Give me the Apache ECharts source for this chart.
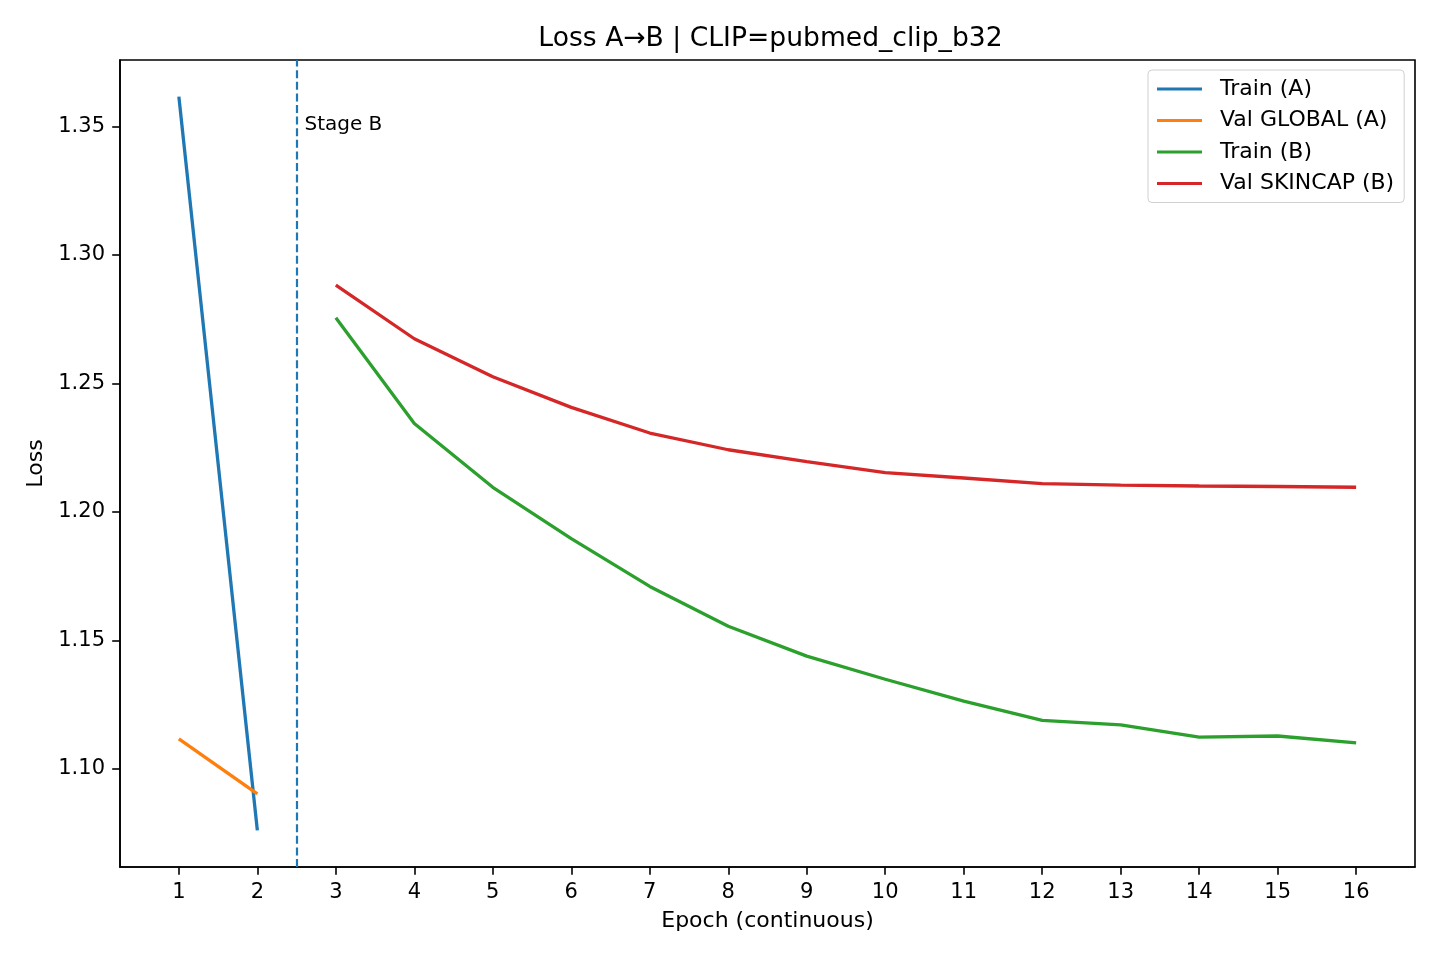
<!DOCTYPE html>
<html>
<head>
<meta charset="utf-8">
<script src="https://cdn.jsdelivr.net/npm/echarts@6/dist/echarts.min.js"></script>
<style>
html,body{margin:0;padding:0;background:#fff;}
#chart{width:1440px;height:960px;}
</style>
</head>
<body>
<div id="chart"></div>
<script>
// ---- data ----
const epochsA = [1, 2];
const trainA = [1.3616, 1.0761];
const valGlobalA = [1.1117, 1.0903];
const epochsB = [3, 4, 5, 6, 7, 8, 9, 10, 11, 12, 13, 14, 15, 16];
const trainB = [1.2756, 1.2344, 1.2096, 1.1896, 1.1710, 1.1555, 1.1439, 1.1349, 1.1264, 1.1189, 1.1171, 1.1124, 1.1128, 1.1101];
const valSkincapB = [1.2883, 1.2674, 1.2526, 1.2407, 1.2307, 1.2242, 1.2196, 1.2153, 1.2132, 1.2110, 1.2104, 1.2101, 1.2099, 1.2096];
const xTicks = [1, 2, 3, 4, 5, 6, 7, 8, 9, 10, 11, 12, 13, 14, 15, 16];
const yTicks = [1.10, 1.15, 1.20, 1.25, 1.30, 1.35];
const seriesNames = ['Train (A)', 'Val GLOBAL (A)', 'Train (B)', 'Val SKINCAP (B)'];
const stageBoundary = 2.5;
const stageLabel = 'Stage B';
const stageLabelPos = [2.6, 1.3478];

// ---- build ----
const C = ['#1f77b4', '#ff7f0e', '#2ca02c', '#d62728'];
const pairs = (xs, ys) => xs.map((x, i) => [x, ys[i]]);
const allY = trainA.concat(valGlobalA, trainB, valSkincapB);
const yLo = Math.min(...allY), yHi = Math.max(...allY);
const yPad = (yHi - yLo) * 0.05;
const xAll = epochsA.concat(epochsB);
const xLo = Math.min(...xAll), xHi = Math.max(...xAll);
const xPad = (xHi - xLo) * 0.05;

const FONT = 'DejaVu Sans';
const lineW = 3.3;

function lineSeries(name, xs, ys, color, extra) {
  return Object.assign({
    name: name,
    type: 'line',
    data: pairs(xs, ys),
    symbol: 'none',
    showSymbol: false,
    lineStyle: { color: color, width: lineW },
    itemStyle: { color: color },
    emphasis: { disabled: true },
    z: 3
  }, extra || {});
}

const chart = echarts.init(document.getElementById('chart'), null, { renderer: 'canvas' });
chart.setOption({
  animation: false,
  backgroundColor: '#fff',
  textStyle: { fontFamily: FONT },
  title: {
    text: 'Loss A\u2192B | CLIP=pubmed_clip_b32',
    left: 765.5,
    textAlign: 'center',
    top: 21,
    textStyle: { fontFamily: FONT, fontSize: 26.6, fontWeight: 'normal', color: '#000' }
  },
  grid: {
    left: 120, right: 25, top: 60, bottom: 93,
    show: true, borderColor: '#000', borderWidth: 1.6, backgroundColor: 'transparent',
    containLabel: false
  },
  legend: {
    data: seriesNames,
    orient: 'vertical',
    left: 1148,
    top: 70,
    padding: [8, 10, 8, 9],
    itemGap: 9.5,
    itemWidth: 45,
    itemHeight: 3,
    icon: 'rect',
    backgroundColor: '#fff',
    borderColor: '#d0d0d0',
    borderWidth: 1,
    borderRadius: 4,
    selectedMode: false,
    textStyle: { fontFamily: FONT, fontSize: 22, color: '#000', lineHeight: 22, padding: [0, 0, 0, 13] }
  },
  xAxis: {
    type: 'value',
    min: xLo - xPad,
    max: xHi + xPad,
    name: 'Epoch (continuous)',
    nameLocation: 'middle',
    nameGap: 43,
    nameTextStyle: { fontFamily: FONT, fontSize: 22, color: '#000' },
    axisLine: { show: true, onZero: false, lineStyle: { color: '#000', width: 1.6 } },
    axisTick: { show: true, inside: false, length: 7.8, customValues: xTicks, lineStyle: { color: '#000', width: 1.6 } },
    axisLabel: { customValues: xTicks, margin: 15, fontFamily: FONT, fontSize: 21, color: '#000', formatter: v => String(v) },
    splitLine: { show: false }
  },
  yAxis: {
    type: 'value',
    min: yLo - yPad,
    max: yHi + yPad,
    name: 'Loss',
    nameLocation: 'middle',
    nameRotate: 90,
    nameGap: 72,
    nameTextStyle: { fontFamily: FONT, fontSize: 22, color: '#000' },
    axisLine: { show: true, onZero: false, lineStyle: { color: '#000', width: 1.6 } },
    axisTick: { show: true, inside: false, length: 7.8, customValues: yTicks, lineStyle: { color: '#000', width: 1.6 } },
    axisLabel: { customValues: yTicks, margin: 15, fontFamily: FONT, fontSize: 21, color: '#000', formatter: v => v.toFixed(2) },
    splitLine: { show: false }
  },
  series: [
    lineSeries(seriesNames[0], epochsA, trainA, C[0], {
      markLine: {
        silent: true,
        symbol: 'none',
        animation: false,
        label: { show: false },
        lineStyle: { color: C[0], type: [8, 3.6], width: 2.2 },
        emphasis: { disabled: true },
        data: [{ xAxis: stageBoundary }]
      }
    }),
    lineSeries(seriesNames[1], epochsA, valGlobalA, C[1]),
    lineSeries(seriesNames[2], epochsB, trainB, C[2]),
    lineSeries(seriesNames[3], epochsB, valSkincapB, C[3]),
    {
      type: 'scatter',
      data: [stageLabelPos],
      symbolSize: 0,
      silent: true,
      z: 5,
      itemStyle: { opacity: 1 },
      label: {
        show: true,
        formatter: stageLabel,
        position: [0, 0],
        align: 'left',
        verticalAlign: 'bottom',
        lineHeight: 14,
        fontFamily: FONT,
        fontSize: 20,
        color: '#000',
        opacity: 1,
        textBorderWidth: 0
      }
    }
  ]
});
</script>
</body>
</html>
